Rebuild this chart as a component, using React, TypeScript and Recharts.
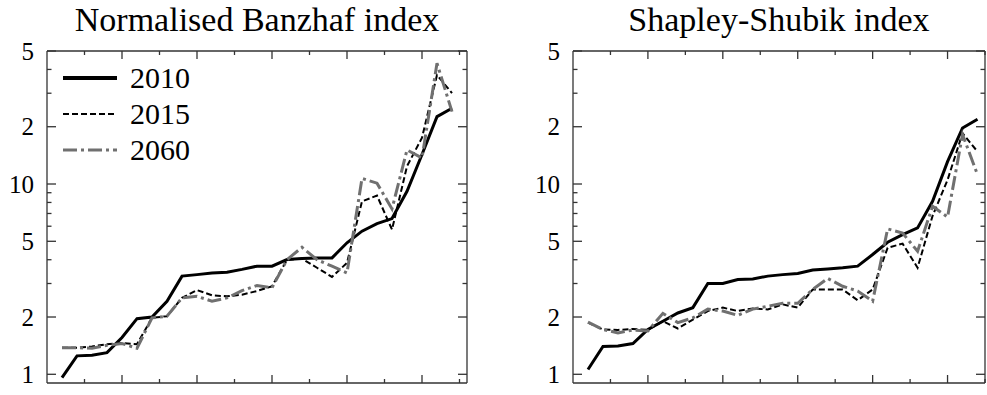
import React from 'react';
import { LineChart, Line, XAxis, YAxis, Legend } from 'recharts';

// member states ranked by index (1..27)
const rank = [1, 2, 3, 4, 5, 6, 7, 8, 9, 10, 11, 12, 13, 14, 15, 16, 17, 18, 19, 20, 21, 22, 23, 24, 25, 26, 27];

const banzhaf2010 = [0.96, 1.25, 1.26, 1.3, 1.56, 1.96, 2.0, 2.42, 3.28, 3.34, 3.41, 3.44, 3.56, 3.7, 3.7, 4.01, 4.06, 4.09, 4.09, 4.91, 5.65, 6.19, 6.58, 9.15, 14.3, 22.6, 25.0];
const banzhaf2015 = [1.38, 1.38, 1.4, 1.44, 1.46, 1.44, 1.98, 2.02, 2.52, 2.77, 2.6, 2.57, 2.62, 2.74, 2.9, 4.0, 4.05, 3.63, 3.25, 3.85, 8.11, 8.69, 5.76, 12.4, 17.5, 37.4, 30.0];
const banzhaf2060 = [1.38, 1.38, 1.37, 1.42, 1.45, 1.37, 1.98, 2.02, 2.52, 2.57, 2.42, 2.52, 2.75, 2.93, 2.85, 4.0, 4.65, 4.0, 3.7, 3.41, 10.7, 10.1, 7.4, 15.1, 13.7, 43.1, 24.0];

const shapley2010 = [1.06, 1.4, 1.41, 1.45, 1.72, 1.9, 2.1, 2.24, 3.0, 3.0, 3.15, 3.17, 3.28, 3.34, 3.39, 3.53, 3.58, 3.63, 3.7, 4.26, 4.94, 5.42, 5.88, 8.11, 13.1, 19.7, 21.9];
const shapley2015 = [1.87, 1.72, 1.71, 1.73, 1.71, 1.9, 1.74, 1.94, 2.15, 2.24, 2.15, 2.22, 2.19, 2.33, 2.24, 2.79, 2.79, 2.79, 2.45, 2.79, 4.62, 4.86, 3.63, 6.8, 10.5, 18.5, 14.8];
const shapley2060 = [1.88, 1.72, 1.65, 1.71, 1.69, 2.09, 1.87, 1.98, 2.2, 2.15, 2.04, 2.2, 2.28, 2.36, 2.36, 2.79, 3.19, 2.9, 2.74, 2.42, 5.81, 5.53, 4.43, 7.64, 6.7, 18.2, 11.2];

const xTicks = [2.5, 5, 7.5, 10, 12.5, 15, 17.5, 20, 22.5, 25, 27.5];
const yTicks = [1, 2, 3, 4, 5, 6, 7, 8, 9, 10, 20, 30, 40, 50];
const yLabels: Record<number, string> = { 1: '1', 2: '2', 5: '5', 10: '10', 20: '2', 50: '5' };

const FONT = '"Liberation Serif", "Times New Roman", serif';
const AXIS = '#333';
const GRAY = '#707070';
const LABEL_GAP = 13;

const series = [
  { key: 'y2010', name: '2010', color: '#000', width: 3, dash: undefined as string | undefined },
  { key: 'y2015', name: '2015', color: '#000', width: 2, dash: '6 3' },
  { key: 'y2060', name: '2060', color: GRAY, width: 3, dash: '14 4 3 4' },
];

const toRows = (a: number[], b: number[], c: number[]) =>
  rank.map((r, i) => ({ rank: r, y2010: a[i], y2015: b[i], y2060: c[i] }));

const isMajorX = (v: number) => v % 5 === 0;
const isMajorY = (v: number) => v in yLabels;

// tick marks point into the plot box on all four sides
const BottomTick = (p: any) => {
  const y = Number(p.y);
  const len = isMajorX(p.payload.value) ? 8 : 4;
  return <line x1={p.x} x2={p.x} y1={y} y2={y - len} stroke={AXIS} strokeWidth={1.3} />;
};
const TopTick = (p: any) => {
  const y = Number(p.y);
  const len = isMajorX(p.payload.value) ? 8 : 4;
  return <line x1={p.x} x2={p.x} y1={y} y2={y + len} stroke={AXIS} strokeWidth={1.3} />;
};
const LeftTick = (p: any) => {
  const v = p.payload.value;
  const len = isMajorY(v) ? 9 : 4.5;
  const edge = Number(p.x) + LABEL_GAP;
  return (
    <g>
      <line x1={edge} x2={edge + len} y1={p.y} y2={p.y} stroke={AXIS} strokeWidth={1.3} />
      {isMajorY(v) && (
        <text x={p.x} y={p.y} dy="0.35em" textAnchor="end" fontSize={25} fontFamily={FONT} fill="#000">
          {yLabels[v]}
        </text>
      )}
    </g>
  );
};
const RightTick = (p: any) => {
  const x = Number(p.x);
  const len = isMajorY(p.payload.value) ? 9 : 4.5;
  return <line x1={x} x2={x - len} y1={p.y} y2={p.y} stroke={AXIS} strokeWidth={1.3} />;
};

const LegendBox = () => (
  <div style={{ fontFamily: FONT, fontSize: 30, lineHeight: '36px' }}>
    {series.map((s) => (
      <div key={s.key} style={{ display: 'flex', alignItems: 'center', height: 36 }}>
        <svg width={58} height={36}>
          <line x1={3} x2={57} y1={18} y2={18} stroke={s.color} strokeWidth={s.key === 'y2010' ? 4 : s.width} strokeDasharray={s.dash} />
        </svg>
        <span style={{ marginLeft: 12 }}>{s.name}</span>
      </div>
    ))}
  </div>
);

interface PanelProps {
  data: any[];
  width: number;
  axisWidth: number;
  right: number;
  xMax: number;
  legend?: boolean;
}

const Panel: React.FC<PanelProps> = ({ data, width, axisWidth, right, xMax, legend }) => {
  const ticks = xTicks.filter((t) => t < xMax + 0.01);
  return (
    <LineChart width={width} height={395} data={data} margin={{ top: 50, right: right - 1, bottom: 11, left: 0 }}>
      <XAxis xAxisId="b" dataKey="rank" type="number" domain={[0, xMax]} ticks={ticks}
        interval={0} height={1} tickSize={0} tickMargin={0} tickLine={false} tick={BottomTick}
        stroke={AXIS} strokeWidth={1.3} allowDataOverflow />
      <XAxis xAxisId="t" orientation="top" dataKey="rank" type="number" domain={[0, xMax]} ticks={ticks}
        interval={0} height={1} tickSize={0} tickMargin={0} tickLine={false} tick={TopTick}
        stroke={AXIS} strokeWidth={1.3} allowDataOverflow />
      <YAxis yAxisId="l" scale="log" type="number" domain={[0.9, 50]} ticks={yTicks} interval={0}
        width={axisWidth} tickSize={0} tickMargin={LABEL_GAP} tickLine={false} tick={LeftTick}
        stroke={AXIS} strokeWidth={1.3} allowDataOverflow />
      <YAxis yAxisId="r" orientation="right" scale="log" type="number" domain={[0.9, 50]} ticks={yTicks} interval={0}
        width={1} tickSize={0} tickMargin={0} tickLine={false} tick={RightTick}
        stroke={AXIS} strokeWidth={1.3} allowDataOverflow />
      {legend && (
        <Legend layout="vertical" align="center" verticalAlign="middle" content={LegendBox}
          wrapperStyle={{ left: 60, top: 60, width: 160, height: 108 }} />
      )}
      {series.map((s) => (
        <Line key={s.key} xAxisId="b" yAxisId="l" type="linear" dataKey={s.key} name={s.name} stroke={s.color}
          strokeWidth={s.width} strokeDasharray={s.dash} dot={false} activeDot={false} isAnimationActive={false} />
      ))}
    </LineChart>
  );
};

const titleStyle: React.CSSProperties = {
  position: 'absolute', top: 3, fontFamily: FONT, fontSize: 34, lineHeight: '34px', textAlign: 'center', color: '#000',
};

export default function App() {
  return (
    <div style={{ position: 'absolute', left: 0, top: 0, width: 987, height: 395, overflow: 'hidden', background: '#fff' }}>
      <div style={{ position: 'absolute', left: 0, top: 0 }}>
        <Panel data={toRows(banzhaf2010, banzhaf2015, banzhaf2060)} width={480} axisWidth={47} right={13} xMax={28} legend />
      </div>
      <div style={{ position: 'absolute', left: 500, top: 0 }}>
        <Panel data={toRows(shapley2010, shapley2015, shapley2060)} width={487} axisWidth={73} right={2} xMax={27.5} />
      </div>
      <div style={{ ...titleStyle, left: 47, width: 420 }}>Normalised Banzhaf index</div>
      <div style={{ ...titleStyle, left: 573, width: 412 }}>Shapley-Shubik index</div>
    </div>
  );
}
